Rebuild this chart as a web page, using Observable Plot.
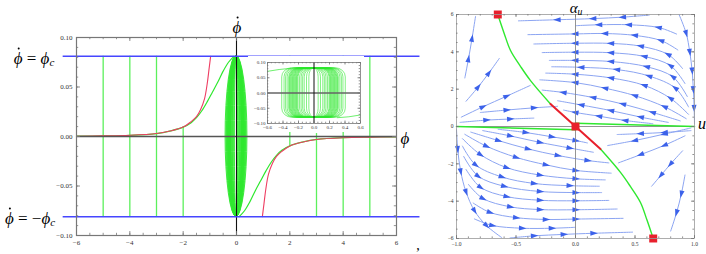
<!DOCTYPE html>
<html><head><meta charset="utf-8">
<script src="https://cdn.jsdelivr.net/npm/d3@7"></script>
<script src="https://cdn.jsdelivr.net/npm/@observablehq/plot@0.6"></script>
<style>
body{margin:0;background:#fff;}
#wrap{position:relative;width:706px;height:254px;overflow:hidden;background:#fff;}
.p{position:absolute;}
.lbl{position:absolute;font-family:"Liberation Serif","DejaVu Serif",serif;font-style:italic;line-height:1;white-space:nowrap;color:#000;transform:translate(-50%,-50%);}
.lbl sub{font-size:0.65em;vertical-align:-0.25em;}
.up{font-style:normal;}
.dphi{position:relative;display:inline-block;}
.dphi::after{content:"";position:absolute;left:58%;top:-0.12em;width:2px;height:2px;margin-left:-1px;border-radius:50%;background:#000;}
</style></head><body>
<div id="wrap">
  <div class="p" id="left" style="left:0;top:0"></div>
  <div class="p" id="inset" style="left:248px;top:56px"></div>
  <div class="p" id="right" style="left:440px;top:0"></div>
  <div class="lbl" style="left:34px;top:59px;font-size:17px"><span class="dphi">ϕ</span><span class="up">&nbsp;=&nbsp;</span>ϕ<sub>c</sub></div>
  <div class="lbl" style="left:30px;top:219px;font-size:17px"><span class="dphi">ϕ</span><span class="up">&nbsp;=&nbsp;−</span>ϕ<sub>c</sub></div>
  <div class="lbl" style="left:237px;top:27px;font-size:17px"><span class="dphi">ϕ</span></div>
  <div class="lbl" style="left:405px;top:138px;font-size:17px">ϕ</div>
  <div class="lbl" style="left:576px;top:9px;font-size:15px">α<sub>u</sub></div>
  <div class="lbl" style="left:702px;top:124px;font-size:16px">u</div>
  <div class="lbl up" style="left:418px;top:246px;font-size:14px">,</div>
</div>
<script>
// ================= LEFT PANEL DATA =================
const leftXTicks = [-6, -4, -2, 0, 2, 4, 6];
const leftYTicks = [-0.10, -0.05, 0.00, 0.05, 0.10];
const phiC = 0.081;
const blueLineXRange = [-6.5, 6.88];
const redUpperX = [-6, -5, -4, -3, -2.5, -2, -1.7, -1.5, -1.35, -1.2, -1.1, -1.03, -0.97];
const redUpperY = [0.0003, 0.0006, 0.0012, 0.003, 0.0055, 0.0095, 0.015, 0.02, 0.027, 0.038, 0.053, 0.068, 0.081];
const redLowerX = [0.97, 1.03, 1.1, 1.2, 1.35, 1.5, 1.7, 2, 2.5, 3, 4, 5, 6];
const redLowerY = [-0.081, -0.068, -0.053, -0.038, -0.027, -0.02, -0.015, -0.0095, -0.0055, -0.003, -0.0012, -0.0006, -0.0003];
const greenUpperX = [-6, -5, -4, -3, -2.5, -2, -1.7, -1.5, -1.3, -1.1, -0.9, -0.7, -0.5, -0.3, -0.1];
const greenUpperY = [0.0003, 0.0006, 0.0012, 0.003, 0.0055, 0.0095, 0.014, 0.019, 0.026, 0.035, 0.045, 0.055, 0.066, 0.075, 0.081];
const greenLowerX = [0.1, 0.3, 0.5, 0.7, 0.9, 1.1, 1.3, 1.5, 1.7, 2, 2.5, 3, 4, 5, 6];
const greenLowerY = [-0.081, -0.075, -0.066, -0.055, -0.045, -0.035, -0.026, -0.019, -0.014, -0.0095, -0.0055, -0.003, -0.0012, -0.0006, -0.0003];
const vlineX = [-5, -4, -3, -2, 2, 3, 4, 5];
const vlineTop = [0.081, 0.081, 0.081, 0.0095, 0.081, 0.003, 0.081, 0.081];
const vlineBottom = [-0.081, -0.081, -0.081, -0.081, -0.0095, -0.081, -0.081, -0.081];
const orbitHalfWidths = [0.06, 0.09, 0.12, 0.14, 0.16, 0.18, 0.2, 0.21, 0.22, 0.23, 0.24, 0.25, 0.26, 0.27, 0.28, 0.29, 0.3, 0.31, 0.32, 0.34, 0.36, 0.38, 0.41];
const orbitHalfHeight = 0.081;
// inset
const insetXTicks = [-0.6, -0.4, -0.2, 0.0, 0.2, 0.4, 0.6];
const insetYTicks = [-0.10, -0.05, 0.00, 0.05, 0.10];
const insetTailTopX = [-0.6, -0.45, -0.3];
const insetTailTopY = [0.071, 0.077, 0.081];
const insetTailBotX = [0.3, 0.45, 0.6];
const insetTailBotY = [-0.081, -0.078, -0.072];

// ================= RIGHT PANEL DATA =================
const rightXTicks = [-1.0, -0.5, 0.0, 0.5, 1.0];
const rightYTicks = [-6, -4, -2, 0, 2, 4, 6];
const sepUpper = [[-0.653, 6], [-0.6, 5.0], [-0.546, 4.07], [-0.46, 3.2], [-0.378, 2.46], [-0.21, 1.21]];
const sepMiddle = [[-0.21, 1.21], [0, 0], [0.21, -1.21]];
const sepLower = [[0.21, -1.21], [0.378, -2.46], [0.46, -3.2], [0.546, -4.07], [0.6, -5.0], [0.653, -6]];
const flatLeft = [[-1, 0], [0, -0.17]];
const flatRight = [[0, 0.17], [1, 0]];
const fixedPoints = [[-0.653, 6], [0, 0], [0.653, -6]];
const streamsUpperRight = [
  [[0.62, 5.97], [0.4, 5.86], [0.15, 5.78], [-0.15, 5.72], [-0.48, 5.66]],
  [[0.85, 4.95], [0.7, 5.3], [0.45, 5.45], [0.2, 5.45], [0.0, 5.4]],
  [[0.86, 4.1], [0.72, 4.6], [0.5, 4.88], [0.25, 4.98], [0.0, 4.96], [-0.4, 4.92]],
  [[0.9, 3.1], [0.78, 3.85], [0.55, 4.3], [0.3, 4.45], [0.0, 4.46], [-0.35, 4.42]],
  [[0.92, 2.3], [0.8, 3.25], [0.58, 3.75], [0.3, 3.95], [0.0, 3.98], [-0.28, 3.96]],
  [[0.94, 1.6], [0.82, 2.65], [0.6, 3.2], [0.3, 3.48], [0.0, 3.54], [-0.22, 3.54]],
  [[0.95, 1.05], [0.84, 2.05], [0.62, 2.7], [0.35, 3.05], [0.05, 3.17], [-0.2, 3.2]],
  [[0.95, 0.65], [0.8, 1.5], [0.58, 2.2], [0.3, 2.6], [0.0, 2.8], [-0.25, 2.86]],
  [[0.93, 0.42], [0.75, 1.05], [0.5, 1.65], [0.25, 2.05], [0.0, 2.35], [-0.3, 2.5]],
  [[0.88, 0.3], [0.65, 0.75], [0.4, 1.2], [0.15, 1.55], [-0.1, 1.82], [-0.28, 1.95]],
  [[0.78, 0.22], [0.55, 0.5], [0.3, 0.85], [0.05, 1.15], [-0.15, 1.38]],
  [[0.65, 0.15], [0.42, 0.32], [0.2, 0.55], [0.0, 0.75], [-0.1, 0.88]]
];
const streamsLowerLeft = [
  [[-0.55, -5.97], [-0.35, -5.86], [-0.1, -5.78], [0.15, -5.72], [0.48, -5.66]],
  [[-0.85, -4.95], [-0.7, -5.3], [-0.45, -5.45], [-0.2, -5.45], [0.0, -5.4]],
  [[-0.86, -4.1], [-0.72, -4.6], [-0.5, -4.88], [-0.25, -4.98], [0.0, -4.96], [0.4, -4.92]],
  [[-0.9, -3.1], [-0.78, -3.85], [-0.55, -4.3], [-0.3, -4.45], [0.0, -4.46], [0.35, -4.42]],
  [[-0.92, -2.3], [-0.8, -3.25], [-0.58, -3.75], [-0.3, -3.95], [0.0, -3.98], [0.28, -3.96]],
  [[-0.94, -1.6], [-0.82, -2.65], [-0.6, -3.2], [-0.3, -3.48], [0.0, -3.54], [0.22, -3.54]],
  [[-0.95, -1.05], [-0.84, -2.05], [-0.62, -2.7], [-0.35, -3.05], [-0.05, -3.17], [0.2, -3.2]],
  [[-0.95, -0.65], [-0.8, -1.5], [-0.58, -2.2], [-0.3, -2.6], [0.0, -2.8], [0.25, -2.86]],
  [[-0.93, -0.42], [-0.75, -1.05], [-0.5, -1.65], [-0.25, -2.05], [0.0, -2.35], [0.3, -2.5]],
  [[-0.88, -0.3], [-0.65, -0.75], [-0.4, -1.2], [-0.15, -1.55], [0.1, -1.82], [0.28, -1.95]],
  [[-0.78, -0.22], [-0.55, -0.5], [-0.3, -0.85], [-0.05, -1.15], [0.15, -1.38]],
  [[-0.65, -0.15], [-0.42, -0.32], [-0.2, -0.55], [0.0, -0.75], [0.1, -0.88]]
];
const streamsUpperLeft = [
  [[-0.93, 2.6], [-0.9, 3.6], [-0.87, 4.7], [-0.84, 5.9]],
  [[-0.92, 1.35], [-0.82, 2.1], [-0.73, 2.85], [-0.64, 3.65]],
  [[-0.96, 0.5], [-0.78, 1.05], [-0.58, 1.62], [-0.38, 2.2]],
  [[-0.8, 0.75], [-0.58, 0.88], [-0.35, 1.0], [-0.15, 1.08]],
  [[-0.97, 0.22], [-0.75, 0.34], [-0.55, 0.4], [-0.35, 0.45]]
];
const streamsLowerRight = [
  [[0.92, -2.6], [0.89, -3.6], [0.85, -4.6], [0.8, -5.6]],
  [[0.9, -1.3], [0.8, -2.0], [0.72, -2.6], [0.64, -3.2]],
  [[0.92, -0.5], [0.75, -1.0], [0.55, -1.5], [0.36, -1.95]],
  [[0.97, -0.08], [0.75, -0.4], [0.5, -0.75], [0.27, -1.02]],
  [[0.97, -0.22], [0.75, -0.32], [0.55, -0.38], [0.35, -0.43]]
];
const streamsEdges = [
  [[0.87, 6.0], [0.93, 5.0], [0.96, 4.0], [0.98, 3.0], [0.99, 2.0], [0.997, 1.0], [1.0, 0.15]],
  [[-1.0, -0.15], [-0.99, -1.2], [-0.965, -2.4], [-0.92, -3.5], [-0.85, -4.5], [-0.75, -5.3], [-0.62, -5.95]]
];

// ================= COLORS =================
const GREEN = "#2fe82f", GREEN_V = "#5cf05c", RED = "#ee3d62", BLUE = "#4646ff";
const FRAME = "#777", TXT = "#333";
const font = "'Liberation Serif','DejaVu Serif',serif";

function pts(xs, ys) { return xs.map((x, i) => ({x, y: ys[i]})); }
function ticksFrame(xMajor, xMinor, yMajor, yMinor, iw, ih, lenMaj, lenMin) {
  const s = {stroke: FRAME, strokeWidth: 0.8};
  return [
    Plot.tickX(xMajor, {x: d => d, insetTop: ih - lenMaj, ...s}),
    Plot.tickX(xMinor, {x: d => d, insetTop: ih - lenMin, ...s}),
    Plot.tickX(xMajor, {x: d => d, insetBottom: ih - lenMaj, ...s}),
    Plot.tickX(xMinor, {x: d => d, insetBottom: ih - lenMin, ...s}),
    Plot.tickY(yMajor, {y: d => d, insetRight: iw - lenMaj, ...s}),
    Plot.tickY(yMinor, {y: d => d, insetRight: iw - lenMin, ...s}),
    Plot.tickY(yMajor, {y: d => d, insetLeft: iw - lenMaj, ...s}),
    Plot.tickY(yMinor, {y: d => d, insetLeft: iw - lenMin, ...s})
  ];
}

// ================= LEFT MAIN PLOT =================
{
  const L = {w: 430, h: 254, ml: 76, mr: 34, mt: 37, mb: 19};
  const iw = L.w - L.ml - L.mr, ih = L.h - L.mt - L.mb;
  const vlines = vlineX.map((x, i) => ({x, top: vlineTop[i], bottom: vlineBottom[i]}));
  const chart = Plot.plot({
    width: L.w, height: L.h, marginLeft: L.ml, marginRight: L.mr, marginTop: L.mt, marginBottom: L.mb,
    x: {domain: [-6, 6]}, y: {domain: [-0.1, 0.1]},
    style: {fontFamily: font, fontSize: "7px", overflow: "visible", background: "transparent"},
    marks: [
      Plot.rect(orbitHalfWidths, {x1: d => -d, x2: d => d, y1: () => -orbitHalfHeight, y2: () => orbitHalfHeight, rx: 40, ry: 90, fill: "none", stroke: GREEN, strokeWidth: 0.9}),
      Plot.ruleX(vlines, {x: "x", y1: "top", y2: "bottom", stroke: GREEN_V, strokeWidth: 1.3}),
      Plot.line(pts(greenUpperX, greenUpperY), {x: "x", y: "y", stroke: GREEN, strokeWidth: 1.2, curve: "catmull-rom"}),
      Plot.line(pts(greenLowerX, greenLowerY), {x: "x", y: "y", stroke: GREEN, strokeWidth: 1.2, curve: "catmull-rom"}),
      Plot.line(pts(redUpperX, redUpperY), {x: "x", y: "y", stroke: RED, strokeWidth: 1.1, curve: "catmull-rom"}),
      Plot.line(pts(redLowerX, redLowerY), {x: "x", y: "y", stroke: RED, strokeWidth: 1.1, curve: "catmull-rom"}),
      Plot.ruleY([0], {x1: () => -6, x2: () => 6, stroke: "#555", strokeWidth: 1.6}),
      Plot.ruleX([0], {stroke: "#111", strokeWidth: 1.1}),
      Plot.ruleY([phiC, -phiC], {y: d => d, x1: () => blueLineXRange[0], x2: () => blueLineXRange[1], stroke: BLUE, strokeWidth: 1.4}),
      Plot.frame({stroke: FRAME, strokeWidth: 1.2}),
      ...ticksFrame(d3.range(-6, 6.01, 2), d3.range(-6, 6.01, 0.5), d3.range(-0.1, 0.101, 0.05), d3.range(-0.1, 0.101, 0.01), iw, ih, 4, 2.2),
      Plot.axisX(leftXTicks, {anchor: "bottom", tickSize: 0, tickPadding: 5, fill: TXT, label: null}),
      Plot.axisY(leftYTicks, {anchor: "left", tickSize: 0, tickPadding: 4, fill: TXT, label: null, tickFormat: d3.format(".2f")})
    ]
  });
  document.getElementById("left").append(chart);
}

// ================= INSET =================
{
  const I = {w: 116, h: 76, ml: 19, mr: 4, mt: 6, mb: 9};
  const iw = I.w - I.ml - I.mr, ih = I.h - I.mt - I.mb;
  const chart = Plot.plot({
    width: I.w, height: I.h, marginLeft: I.ml, marginRight: I.mr, marginTop: I.mt, marginBottom: I.mb,
    x: {domain: [-0.6, 0.6]}, y: {domain: [-0.1, 0.1]},
    style: {fontFamily: font, fontSize: "5px", overflow: "visible", background: "#fff"},
    marks: [
      Plot.rect(orbitHalfWidths, {x1: d => -d, x2: d => d, y1: () => -orbitHalfHeight, y2: () => orbitHalfHeight, rx: 10, ry: 9, fill: "none", stroke: GREEN, strokeWidth: 0.6}),
      Plot.line(pts(insetTailTopX, insetTailTopY), {x: "x", y: "y", stroke: GREEN, strokeWidth: 0.7}),
      Plot.line(pts(insetTailBotX, insetTailBotY), {x: "x", y: "y", stroke: GREEN, strokeWidth: 0.7}),
      Plot.ruleY([0], {stroke: "#666", strokeWidth: 1.6}),
      Plot.ruleX([0], {stroke: "#111", strokeWidth: 1}),
      Plot.frame({stroke: FRAME, strokeWidth: 0.8}),
      ...ticksFrame(d3.range(-0.6, 0.61, 0.2), d3.range(-0.6, 0.61, 0.05), d3.range(-0.1, 0.101, 0.05), d3.range(-0.1, 0.101, 0.01), iw, ih, 2.5, 1.3),
      Plot.axisX(insetXTicks, {anchor: "bottom", tickSize: 0, tickPadding: 2, fill: TXT, label: null, tickFormat: d3.format(".1f")}),
      Plot.axisY(insetYTicks, {anchor: "left", tickSize: 0, tickPadding: 2, fill: TXT, label: null, tickFormat: d3.format(".2f")})
    ]
  });
  document.getElementById("inset").append(chart);
}

// ================= RIGHT PLOT =================
{
  const R = {w: 266, h: 254, ml: 16, mr: 12, mt: 14, mb: 16};
  const iw = R.w - R.ml - R.mr, ih = R.h - R.mt - R.mb;
  const kx = iw / 2, ky = ih / 12;
  const allStreams = [...streamsUpperRight, ...streamsLowerLeft, ...streamsUpperLeft, ...streamsLowerRight, ...streamsEdges];
  const lineData = [];
  const headData = [];
  allStreams.forEach((s, k) => {
    s.forEach(([u, a]) => lineData.push({u, a, id: k}));
    for (let i = 1; i < s.length - 1; i++) {
      const du = s[i + 1][0] - s[i - 1][0], da = s[i + 1][1] - s[i - 1][1];
      headData.push({u: s[i][0], a: s[i][1], rot: Math.atan2(du * kx, da * ky) * 180 / Math.PI});
    }
  });
  const arrowHead = {draw(ctx) { ctx.moveTo(0, -4.5); ctx.lineTo(2.5, 3); ctx.lineTo(-2.5, 3); ctx.closePath(); }};
  const toObj = arr => arr.map(([u, a]) => ({u, a}));
  const chart = Plot.plot({
    width: R.w, height: R.h, marginLeft: R.ml, marginRight: R.mr, marginTop: R.mt, marginBottom: R.mb,
    x: {domain: [-1, 1]}, y: {domain: [-6, 6]},
    style: {fontFamily: font, fontSize: "5.5px", overflow: "visible", background: "transparent"},
    marks: [
      Plot.line(lineData, {x: "u", y: "a", z: "id", stroke: "#8ca5f2", strokeWidth: 1, curve: "catmull-rom"}),
      Plot.dot(headData, {x: "u", y: "a", rotate: "rot", symbol: arrowHead, fill: "#3c62ea", stroke: "none"}),
      Plot.ruleY([0], {stroke: "#888", strokeWidth: 0.9}),
      Plot.ruleX([0], {stroke: "#888", strokeWidth: 0.9}),
      Plot.line(toObj(flatLeft), {x: "u", y: "a", stroke: GREEN, strokeWidth: 1.5}),
      Plot.line(toObj(flatRight), {x: "u", y: "a", stroke: GREEN, strokeWidth: 1.5}),
      Plot.line(toObj(sepUpper), {x: "u", y: "a", stroke: GREEN, strokeWidth: 1.4, curve: "catmull-rom"}),
      Plot.line(toObj(sepLower), {x: "u", y: "a", stroke: GREEN, strokeWidth: 1.4, curve: "catmull-rom"}),
      Plot.line(toObj(sepMiddle), {x: "u", y: "a", stroke: "#e8202c", strokeWidth: 2}),
      Plot.dot(toObj(fixedPoints), {x: "u", y: "a", symbol: "square", r: 4.5, fill: "#e8202c", stroke: "none"}),
      Plot.frame({stroke: "#999", strokeWidth: 0.8}),
      ...ticksFrame(d3.range(-1, 1.01, 0.5), d3.range(-1, 1.01, 0.1), d3.range(-6, 6.01, 2), d3.range(-6, 6.01, 0.5), iw, ih, 3, 1.6),
      Plot.axisX(rightXTicks, {anchor: "bottom", tickSize: 0, tickPadding: 4, fill: TXT, label: null, tickFormat: d3.format(".1f")}),
      Plot.axisY(rightYTicks, {anchor: "left", tickSize: 0, tickPadding: 3, fill: TXT, label: null})
    ]
  });
  document.getElementById("right").append(chart);
}
</script>
</body></html>
